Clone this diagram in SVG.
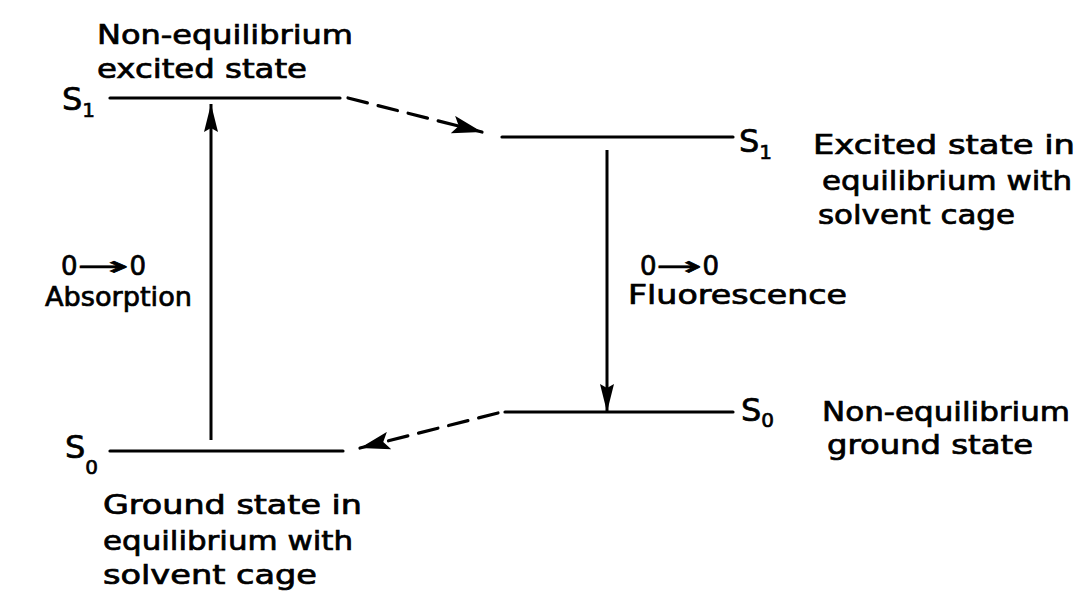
<svg xmlns="http://www.w3.org/2000/svg" width="1084" height="595" viewBox="0 0 1084 595">
<style>
.t{font-family:"DejaVu Sans","Liberation Sans",sans-serif;font-size:26px;fill:#000;stroke:#000;stroke-width:0.7px}
.s{font-family:"DejaVu Sans","Liberation Sans",sans-serif;font-size:32px;fill:#000;stroke:#000;stroke-width:0.7px}
.sub{font-size:20px}
.lvl{stroke:#000;stroke-width:3.2;fill:none;stroke-linecap:round}
.arr{stroke:#000;stroke-width:3;fill:none}
.dash{stroke:#000;stroke-width:3.2;fill:none;stroke-dasharray:20 11;stroke-linecap:round}
</style>
<defs>
<marker id="head" markerUnits="userSpaceOnUse" viewBox="0 0 30 18" refX="30" refY="9" markerWidth="30" markerHeight="18" orient="auto">
<path d="M0,0 L30,9 L0,18 L6,9 Z" fill="#000"/>
</marker>
<marker id="vhead" markerUnits="userSpaceOnUse" viewBox="0 0 28 14" refX="28" refY="7" markerWidth="28" markerHeight="14" orient="auto">
<path d="M0,0 L28,7 L0,14 L4,7 Z" fill="#000"/>
</marker>
</defs>
<rect width="1084" height="595" fill="#fff"/>

<g id="s1-nonequilibrium">
<line class="lvl" x1="110" y1="98" x2="340" y2="98"/>
<text class="s" x="62" y="110">S<tspan class="sub" dy="7">1</tspan></text>
<text class="t" x="97" y="44" textLength="256" lengthAdjust="spacingAndGlyphs">Non-equilibrium</text>
<text class="t" x="97" y="78" textLength="210" lengthAdjust="spacingAndGlyphs">excited state</text>
</g>

<g id="s1-equilibrium">
<line class="lvl" x1="502" y1="137" x2="733" y2="137"/>
<text class="s" x="739" y="152">S<tspan class="sub" dy="7">1</tspan></text>
<text class="t" x="813" y="154" textLength="262" lengthAdjust="spacingAndGlyphs">Excited state in</text>
<text class="t" x="822" y="190" textLength="250" lengthAdjust="spacingAndGlyphs">equilibrium with</text>
<text class="t" x="818" y="224" textLength="197" lengthAdjust="spacingAndGlyphs">solvent cage</text>
</g>

<g id="s0-nonequilibrium">
<line class="lvl" x1="505" y1="412" x2="733" y2="412"/>
<text class="s" x="741" y="421">S<tspan class="sub" dy="6">0</tspan></text>
<text class="t" x="822" y="421" textLength="248" lengthAdjust="spacingAndGlyphs">Non-equilibrium</text>
<text class="t" x="827" y="454" textLength="206" lengthAdjust="spacingAndGlyphs">ground state</text>
</g>

<g id="s0-equilibrium">
<line class="lvl" x1="110" y1="451" x2="343" y2="451"/>
<text class="s" x="65" y="458">S<tspan class="sub" dy="16">0</tspan></text>
<text class="t" x="103" y="514" textLength="259" lengthAdjust="spacingAndGlyphs">Ground state in</text>
<text class="t" x="103" y="550" textLength="250" lengthAdjust="spacingAndGlyphs">equilibrium with</text>
<text class="t" x="103" y="584" textLength="214" lengthAdjust="spacingAndGlyphs">solvent cage</text>
</g>

<g id="absorption-label">
<text class="t" x="61" y="275">0<tspan textLength="52" lengthAdjust="spacingAndGlyphs">→</tspan>0</text>
<text class="t" x="45" y="306" textLength="147" lengthAdjust="spacingAndGlyphs">Absorption</text>
</g>

<g id="fluorescence-label">
<text class="t" x="640" y="275">0<tspan textLength="46" lengthAdjust="spacingAndGlyphs">→</tspan>0</text>
<text class="t" x="628" y="304" textLength="219" lengthAdjust="spacingAndGlyphs">Fluorescence</text>
</g>

<g id="connectors">
<line class="arr" x1="211" y1="440" x2="211" y2="104" marker-end="url(#vhead)"/>
<line class="arr" x1="607" y1="150" x2="607" y2="412" marker-end="url(#vhead)"/>
<line class="dash" x1="348" y1="98" x2="482" y2="132" marker-end="url(#head)"/>
<line class="dash" x1="498" y1="413" x2="360" y2="448" marker-end="url(#head)"/>
</g>
</svg>
